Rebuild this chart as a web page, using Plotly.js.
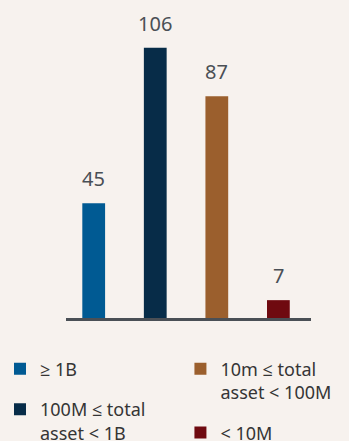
<!DOCTYPE html>
<html>
<head>
<meta charset="utf-8">
<script src="https://cdn.plot.ly/plotly-3.0.1.min.js"></script>
<style>html,body{margin:0;padding:0;background:#f7f2ee;}#chart{width:349px;height:441px;}</style>
</head>
<body>
<div id="chart"></div>
<script>
const categories = ["≥ 1B", "100M ≤ total<br>asset &lt; 1B", "10m ≤ total<br>asset &lt; 100M", "&lt; 10M"];
const values = [45, 106, 87, 7];
const legendSlots = ["legend", "legend", "legend2", "legend2"];

const barColors = ["#005a93", "#072c48", "#9b5f2d", "#6f0a10"];
const FONT = "Noto Sans, Open Sans, sans-serif";

const traces = categories.map((c, i) => ({
  type: "bar",
  x: [i],
  y: [values[i]],
  name: c,
  legend: legendSlots[i],
  legendgroup: "g" + i,
  width: 0.37,
  marker: {color: barColors[i], line: {width: 0}},
  hoverinfo: "skip"
}));

const annotations = values.map((v, i) => ({
  x: i, y: v, xref: "x", yref: "y",
  text: String(v), showarrow: false,
  yanchor: "bottom", yshift: 9,
  font: {family: FONT, size: 20, color: "#4a4f55"}
}));

const legendCommon = {
  orientation: "v",
  xref: "container", yref: "container",
  yanchor: "top", xanchor: "left",
  valign: "top",
  tracegroupgap: 14,
  bgcolor: "rgba(0,0,0,0)",
  font: {family: FONT, size: 18, color: "#353535"},
  traceorder: "grouped"
};

const layout = {
  width: 349, height: 441,
  paper_bgcolor: "#f7f2ee", plot_bgcolor: "#f7f2ee",
  margin: {l: 66, r: 38, t: 12, b: 123, autoexpand: false},
  barmode: "overlay",
  showlegend: true,
  xaxis: {
    type: "linear",
    range: [-0.45, 3.53], showgrid: false, zeroline: false,
    showticklabels: false, ticks: "",
    showline: true, linecolor: "#4a4f55", linewidth: 2.5,
    fixedrange: true
  },
  yaxis: {
    range: [0, 120], visible: false, showgrid: false, zeroline: false,
    fixedrange: true
  },
  legend: Object.assign({}, legendCommon, {x: 0.0, y: 0.205}),
  legend2: Object.assign({}, legendCommon, {x: 0.517, y: 0.205}),
  annotations: annotations
};

Plotly.newPlot("chart", traces, layout, {displayModeBar: false, staticPlot: true});
</script>
</body>
</html>
